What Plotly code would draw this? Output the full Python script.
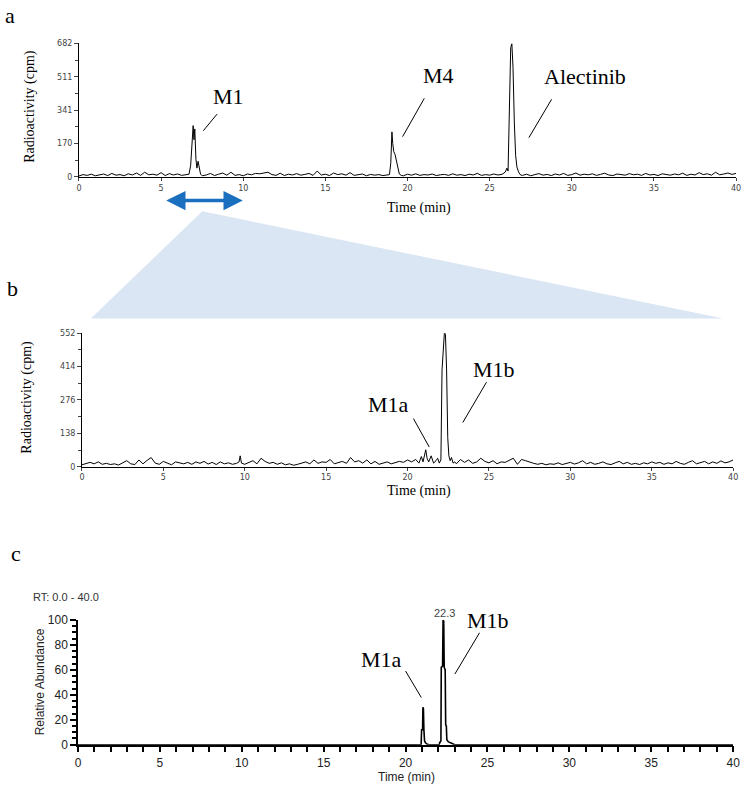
import plotly.graph_objects as go

W, H = 750, 792
SERIF = "Liberation Serif"
SANS = "Liberation Sans"
SMALL = "DejaVu Sans"

# ---------------- data ----------------
# panel a : radio-chromatogram (cpm)
TIME_A = [0, 0.25, 0.5, 0.75, 1, 1.25, 1.5, 1.75, 2, 2.25, 2.5, 2.75, 3, 3.25, 3.5, 3.75, 4, 4.25, 4.5,
          4.75, 5, 5.25, 5.5, 5.75, 6, 6.25, 6.5,
          6.7, 6.8, 6.88, 6.95, 7.0, 7.05, 7.12, 7.18, 7.25, 7.32, 7.4, 7.5,
          7.75, 8, 8.25, 8.5, 8.75, 9, 9.25, 9.5, 9.75, 10, 10.25, 10.5, 10.75, 11, 11.25, 11.5, 11.75, 12,
          12.25, 12.5, 12.75, 13, 13.25, 13.5, 13.75, 14, 14.25, 14.5, 14.75, 15, 15.25, 15.5, 15.75, 16,
          16.25, 16.5, 16.75, 17, 17.25, 17.5, 17.75, 18, 18.25, 18.5, 18.75,
          18.9, 18.98, 19.05, 19.1, 19.16, 19.24, 19.32, 19.4, 19.5, 19.62,
          19.75, 20, 20.25, 20.5, 20.75, 21, 21.25, 21.5, 21.75, 22, 22.25, 22.5, 22.75, 23, 23.25, 23.5,
          23.75, 24, 24.25, 24.5, 24.75, 25, 25.25, 25.5, 25.75,
          25.95, 26.05, 26.12, 26.2, 26.28, 26.35, 26.42, 26.5, 26.58, 26.66, 26.76, 26.88,
          27, 27.25, 27.5, 27.75, 28, 28.25, 28.5, 28.75, 29, 29.25, 29.5, 29.75, 30, 30.25, 30.5, 30.75,
          31, 31.25, 31.5, 31.75, 32, 32.25, 32.5, 32.75, 33, 33.25, 33.5, 33.75, 34, 34.25, 34.5, 34.75,
          35, 35.25, 35.5, 35.75, 36, 36.25, 36.5, 36.75, 37, 37.25, 37.5, 37.75, 38, 38.25, 38.5, 38.75,
          39, 39.25, 39.5, 39.75, 40]
CPM_A = [5, 12, 8, 14, 6, 10, 15, 7, 18, 9, 12, 6, 16, 10, 20, 8, 24, 11, 14, 9, 22, 7, 17, 10, 15, 8, 12,
         14, 60, 200, 262, 190, 245, 90, 45, 80, 55, 15, 6,
         10, 18, 7, 14, 20, 9, 24, 8, 12, 6, 15, 11, 18, 16, 20, 24, 12, 8, 19, 7, 14, 10, 17, 9, 13, 18,
         8, 30, 10, 14, 7, 20, 12, 16, 9, 22, 8, 11, 15, 6, 13, 9, 12, 7, 10,
         12, 70, 230, 170, 130, 115, 85, 40, 15, 8,
         6, 14, 9, 16, 8, 12, 10, 15, 7, 11, 13, 8, 16, 9, 12, 7, 14, 10, 18, 8, 12, 9, 15, 10, 13,
         25, 45, 30, 320, 660, 680, 560, 280, 110, 50, 25, 10,
         8, 14, 6, 12, 17, 9, 13, 7, 15, 10, 18, 8, 12, 20, 9, 14, 11, 16, 8, 13, 19, 10, 7, 15, 12, 9,
         17, 11, 14, 8, 18, 10, 13, 7, 16, 12, 9, 15, 11, 19, 8, 14, 10, 22, 12, 16, 9, 24, 11, 15, 20,
         13, 18]

# panel b : radio-chromatogram of M1 fraction (cpm)
TIME_B = [0, 0.25, 0.5, 0.75, 1, 1.25, 1.5, 1.75, 2, 2.25, 2.5, 2.75, 3, 3.25, 3.5, 3.75, 4, 4.25, 4.5,
          4.75, 5, 5.25, 5.5, 5.75, 6, 6.25, 6.5, 6.75, 7, 7.25, 7.5, 7.75, 8, 8.25, 8.5, 8.75, 9, 9.25, 9.5,
          9.65, 9.72, 9.8,
          10, 10.25, 10.5, 10.75, 11, 11.25, 11.5, 11.75, 12, 12.25, 12.5, 12.75, 13, 13.25, 13.5, 13.75,
          14, 14.25, 14.5, 14.75, 15, 15.25, 15.5, 15.75, 16, 16.25, 16.5, 16.75, 17, 17.25, 17.5, 17.75,
          18, 18.25, 18.5, 18.75, 19, 19.25, 19.5, 19.75, 20, 20.25, 20.5,
          20.7, 20.85, 20.95, 21.05, 21.12, 21.2, 21.3, 21.45, 21.6, 21.75, 21.85, 21.95, 22.05,
          22.12, 22.2, 22.27, 22.33, 22.4, 22.47, 22.54, 22.62, 22.7, 22.8, 22.9,
          23, 23.25, 23.5, 23.75, 24, 24.25, 24.5, 24.75, 25, 25.25, 25.5, 25.75, 26, 26.25, 26.5, 26.75,
          27, 27.25, 27.5, 27.75, 28, 28.25, 28.5, 28.75, 29, 29.25, 29.5, 29.75, 30, 30.25, 30.5, 30.75,
          31, 31.25, 31.5, 31.75, 32, 32.25, 32.5, 32.75, 33, 33.25, 33.5, 33.75, 34, 34.25, 34.5, 34.75,
          35, 35.25, 35.5, 35.75, 36, 36.25, 36.5, 36.75, 37, 37.25, 37.5, 37.75, 38, 38.25, 38.5, 38.75,
          39, 39.25, 39.5, 39.75, 40]
CPM_B = [8, 14, 18, 12, 20, 10, 14, 9, 12, 7, 16, 25, 12, 9, 28, 12, 26, 38, 15, 10, 22, 14, 8, 20, 16,
         12, 18, 10, 20, 14, 22, 11, 18, 9, 20, 12, 16, 10, 14,
         20, 45, 15,
         10, 18, 25, 12, 35, 22, 14, 18, 10, 16, 8, 12, 6, 10, 15, 20, 12, 28, 14, 20, 18, 30, 12, 16, 22,
         14, 38, 20, 25, 15, 28, 12, 22, 10, 14, 20, 12, 16, 22, 18, 28, 20, 30,
         15, 42, 20, 55, 70, 35, 20, 45, 15, 25, 35, 15, 28,
         400, 520, 560, 545, 400, 120, 45, 25, 38, 15, 20,
         12, 30, 18, 28, 14, 20, 35, 22, 16, 25, 12, 20, 18, 28, 35, 10, 30, 25, 18, 14, 10, 14, 8, 12, 10,
         16, 9, 14, 18, 11, 16, 25, 12, 18, 10, 14, 20, 12, 9, 16, 22, 12, 18, 10, 14, 9, 16, 12, 20, 14,
         18, 10, 16, 12, 22, 14, 10, 18, 25, 12, 16, 22, 12, 20, 14, 24, 16, 20, 28]

# panel c : LC-MS chromatogram (relative abundance, %)
TIME_C = [0, 20.95, 20.98, 21.04, 21.06, 21.09, 21.12, 21.16, 21.22, 21.3, 21.45, 22.05, 22.1, 22.16,
          22.18, 22.26, 22.29, 22.33, 22.36, 22.42, 22.45, 22.49, 22.52, 22.6, 22.75, 22.9, 23.0, 40]
ABUND_C = [0, 0, 12, 12, 30, 29, 12, 3, 1.5, 0.5, 0, 0, 2, 3, 62, 63, 100, 99, 62, 60, 16, 15, 4, 2.5,
           1.5, 0.8, 0, 0]

YTICKS_A = [0, 170, 341, 511, 682]
YTICKS_B = [0, 138, 276, 414, 552]
XTICKS = [0, 5, 10, 15, 20, 25, 30, 35, 40]


def px(x):
    return x / W


def py(y):
    return 1 - y / H


fig = go.Figure()
fig.add_trace(go.Scatter(x=TIME_A, y=CPM_A, mode="lines", line=dict(color="black", width=1),
                         xaxis="x", yaxis="y"))
fig.add_trace(go.Scatter(x=TIME_B, y=CPM_B, mode="lines", line=dict(color="black", width=1),
                         xaxis="x2", yaxis="y2"))
fig.add_trace(go.Scatter(x=TIME_C, y=ABUND_C, mode="lines", line=dict(color="black", width=1.6),
                         xaxis="x3", yaxis="y3"))

small_font = dict(family=SMALL, size=8, color="#444444")


def radio_x(anchor, domain):
    return dict(domain=domain, anchor=anchor, range=[0, 40], tickvals=XTICKS, showgrid=False,
                zeroline=False, showline=True, linecolor="black", linewidth=1, ticks="outside",
                ticklen=3, tickcolor="#444444", tickfont=small_font)


def radio_y(anchor, domain, vals):
    mids = [(a + b) / 2 for a, b in zip(vals[:-1], vals[1:])]
    return dict(domain=domain, anchor=anchor, range=[0, vals[-1]], tickvals=vals, showgrid=False,
                zeroline=False, showline=True, linecolor="black", linewidth=1, ticks="outside",
                ticklen=4, tickcolor="#444444", tickfont=small_font,
                minor=dict(tickvals=mids, ticks="outside", ticklen=3, tickcolor="#444444"))


fig.update_layout(
    width=W, height=H, margin=dict(l=0, r=0, t=0, b=0),
    plot_bgcolor="white", paper_bgcolor="white", showlegend=False,
    xaxis=radio_x("y", [px(77), px(743)]),
    yaxis=radio_y("x", [py(173), py(37)], YTICKS_A),
    xaxis2=radio_x("y2", [px(80), px(740)]),
    yaxis2=radio_y("x2", [py(468), py(332)], YTICKS_B),
    xaxis3=dict(domain=[px(76), px(740)], anchor="y3", range=[0, 40], dtick=5, showgrid=False,
                zeroline=False, showline=True, linecolor="black", linewidth=1.5, ticks="outside",
                ticklen=6, tickwidth=1.5, tickcolor="black",
                tickfont=dict(family=SANS, size=12, color="#222222"),
                minor=dict(dtick=1, ticks="outside", ticklen=6, tickwidth=1.5, tickcolor="black")),
    yaxis3=dict(domain=[py(751), py(624)], anchor="x3", range=[0, 100], dtick=20, showgrid=False,
                zeroline=False, showline=True, linecolor="black", linewidth=1.5, ticks="outside",
                ticklen=6, tickwidth=1.5, tickcolor="black",
                tickfont=dict(family=SANS, size=12, color="#222222"),
                minor=dict(dtick=5, ticks="outside", ticklen=4, tickwidth=1.5, tickcolor="black")),
)

# zoom wedge from panel a down to panel b
fig.add_shape(type="path", xref="paper", yref="paper",
              path=f"M {px(202)} {py(208)} L {px(730)} {py(317)} L {px(89)} {py(317)} Z",
              fillcolor="#dae6f3", line=dict(width=0), layer="below")

# double-headed arrow marking the collected fraction
fig.add_annotation(xref="paper", yref="paper", x=px(243), y=py(197), ax=-78, ay=0, text="",
                   showarrow=True, arrowside="end+start", arrowhead=2, arrowsize=1.1,
                   arrowwidth=3.5, arrowcolor="#1a6fbf")


def text(t, x, y, size, family=SERIF, color="black", angle=0):
    fig.add_annotation(xref="paper", yref="paper", x=px(x), y=py(y), text=t, showarrow=False,
                       xanchor="center", yanchor="middle", textangle=angle,
                       font=dict(family=family, size=size, color=color))


def leader(x0, y0, x1, y1):
    fig.add_shape(type="line", xref="paper", yref="paper", x0=px(x0), y0=py(y0), x1=px(x1),
                  y1=py(y1), line=dict(color="black", width=1))


# panel letters
text("a", 7, 9, 22)
text("b", 10, 287, 22)
text("c", 13, 556, 22)

# axis titles
text("Radioactivity (cpm)", 28, 101, 14, angle=-90)
text("Time (min)", 422, 205, 14)
text("Radioactivity (cpm)", 24, 397, 14, angle=-90)
text("Time (min)", 422, 493, 14)
text("Relative Abundance", 37, 687, 12, family=SANS, color="#222222", angle=-90)
text("Time (min)", 409, 784, 12, family=SANS, color="#222222")
text("RT: 0.0 - 40.0", 64, 601, 11, family=SANS, color="#333333")

# peak labels
text("M1", 229, 91, 22)
leader(217, 109, 203, 126)
text("M4", 441, 70, 22)
leader(427, 93, 405, 132)
text("Alectinib", 590, 71, 22)
leader(556, 94, 533, 133)

text("M1a", 391, 405, 22)
leader(416, 419, 432, 448)
text("M1b", 498, 369, 22)
leader(490, 382, 466, 423)

text("M1a", 384, 664, 22)
leader(408, 676, 424, 703)
text("M1b", 492, 625, 22)
leader(483, 637, 458, 679)
text("22.3", 447, 617, 11, family=SANS, color="#444444")

# the page's default body margin would push the figure off its 750x792 window
fig.write_html("out.html", config={"displayModeBar": False},
               post_script="document.body.style.margin='0px';")
